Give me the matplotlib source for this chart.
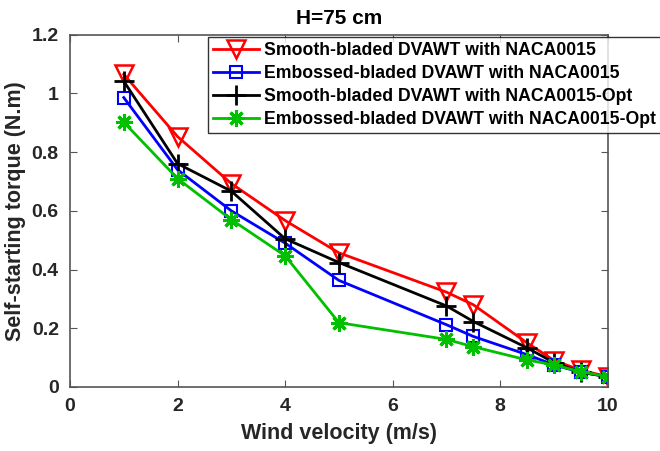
import matplotlib.pyplot as plt
import numpy as np

plt.rcParams['font.family'] = ['Liberation Sans', 'DejaVu Sans']
plt.rcParams['font.weight'] = 'bold'

# wind velocity (m/s)
v = [1, 2, 3, 4, 5, 7, 7.5, 8.5, 9, 9.5, 10]

# self-starting torque (N.m)
smooth = [1.065, 0.853, 0.693, 0.567, 0.457, 0.323, 0.28, 0.15, 0.09, 0.057, 0.035]
embossed = [0.986, 0.74, 0.60, 0.49, 0.363, 0.212, 0.172, 0.11, 0.075, 0.05, 0.035]
smooth_opt = [1.042, 0.761, 0.667, 0.505, 0.424, 0.276, 0.223, 0.133, 0.083, 0.05, 0.035]
embossed_opt = [0.902, 0.71, 0.57, 0.447, 0.219, 0.162, 0.137, 0.092, 0.075, 0.052, 0.035]

labels = ['Smooth-bladed DVAWT with NACA0015',
          'Embossed-bladed DVAWT with NACA0015',
          'Smooth-bladed DVAWT with NACA0015-Opt',
          'Embossed-bladed DVAWT with NACA0015-Opt']

fig = plt.figure(figsize=(6.6, 4.51), dpi=100)
ax = fig.add_axes([0.106, 0.142, 0.815, 0.781])

ax.plot(v, smooth, 'r-v', lw=2, ms=13, mfc='none', mew=1.8, label=labels[0])
ax.plot(v, embossed, 'b-s', lw=2, ms=8.5, mfc='none', mew=1.5, label=labels[1])
ax.plot(v, smooth_opt, 'k-+', lw=2, ms=14, mew=2, label=labels[2])
# matlab-style asterisk: 8 spokes
ax.plot(v, embossed_opt, '-', marker=(8, 2, 0), color='#00c000', lw=2, ms=12, mew=2.2,
        label=labels[3])

ax.set_xlim(0, 10)
ax.set_ylim(0, 1.2)
ax.set_xticks(np.arange(0, 11, 2))
ax.set_yticks(np.arange(0, 1.21, 0.2))
ax.set_yticklabels(['0', '0.2', '0.4', '0.6', '0.8', '1', '1.2'])

for s in ax.spines.values():
    s.set_color('#555555')
    s.set_linewidth(1.2)
ax.tick_params(direction='in', top=True, right=True, colors='#555555',
               labelcolor='#262626', labelsize=14, length=5, pad=8)
for t in ax.get_xticklabels() + ax.get_yticklabels():
    t.set_fontweight('bold')

ax.set_xlabel('Wind velocity (m/s)', fontsize=15.5, fontweight='bold', color='#262626',
              labelpad=6)
ax.set_ylabel('Self-starting torque (N.m)', fontsize=15.5, fontweight='bold', color='#262626')
ax.set_title('H=75 cm', fontsize=15, fontweight='bold', pad=8)

leg = fig.legend(loc='upper left', bbox_to_anchor=(0.315, 0.918), fontsize=12.7,
                 frameon=True, fancybox=False, handlelength=2.6, borderpad=0.3,
                 labelspacing=0.33, handletextpad=0.3, borderaxespad=0)
leg.get_frame().set_edgecolor('black')
leg.get_frame().set_linewidth(1)
for t in leg.get_texts():
    t.set_fontweight('bold')

fig.savefig('out.png', dpi=100)
